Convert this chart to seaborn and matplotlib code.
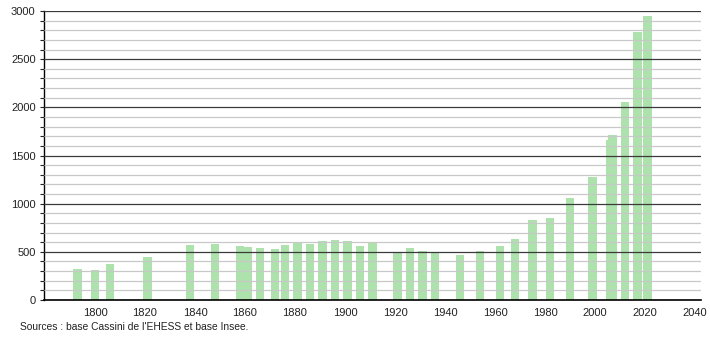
import matplotlib
matplotlib.use("Agg")
import matplotlib.pyplot as plt
from matplotlib.ticker import MultipleLocator
import seaborn as sns
import pandas as pd

years = [1793, 1800, 1806, 1821, 1838, 1848, 1858, 1861, 1866, 1872, 1876, 1881,
         1886, 1891, 1896, 1901, 1906, 1911, 1921, 1926, 1931, 1936, 1946, 1954,
         1962, 1968, 1975, 1982, 1990, 1999, 2006, 2007, 2012, 2017, 2021]
population = [321, 311, 376, 446, 570, 581, 563, 550, 539, 529, 567, 594,
              581, 612, 622, 609, 563, 598, 498, 539, 508, 501, 467, 508,
              560, 632, 829, 850, 1058, 1276, 1659, 1711, 2053, 2779, 2945]
x_ticks = [1800, 1820, 1840, 1860, 1880, 1900, 1920, 1940, 1960, 1980, 2000, 2020, 2040]
source = "Sources : base Cassini de l'EHESS et base Insee."

df = pd.DataFrame({"year": years, "population": population})

sns.set_style("white")
plt.rcParams["font.family"] = ["Liberation Sans", "DejaVu Sans"]

fig = plt.figure(figsize=(7.1, 3.4), dpi=100)
ax = fig.add_axes([0.062, 0.1176, 0.925, 0.85])

sns.barplot(data=df, x="year", y="population", native_scale=True, orient="x",
            width=3.3, color="#ade2ad", saturation=1, errorbar=None,
            linewidth=0, ax=ax, zorder=1)

ax.set_xlim(1779.6, 2042.3)
ax.set_ylim(0, 3000)
ax.set_xticks(x_ticks)
ax.set_xticklabels([str(t) for t in x_ticks])
ax.yaxis.set_major_locator(MultipleLocator(500))
ax.yaxis.set_minor_locator(MultipleLocator(100))

ax.grid(False)
ax.set_axisbelow(False)
ax.yaxis.grid(True, which="minor", color="#c8c8c8", linewidth=0.9, zorder=2)
ax.yaxis.grid(True, which="major", color="#3a3a3a", linewidth=0.9, zorder=3)

for s in ["top", "right"]:
    ax.spines[s].set_visible(False)
ax.spines["left"].set_color("black")
ax.spines["bottom"].set_color("black")
ax.spines["left"].set_linewidth(1.0)
ax.spines["bottom"].set_linewidth(1.2)
ax.spines["bottom"].set_zorder(5)

ax.tick_params(axis="x", length=0, pad=6, labelsize=8, colors="#222222")
ax.tick_params(axis="y", which="major", length=3, width=0.8, pad=3, labelsize=8,
               left=True, colors="#222222")
ax.tick_params(axis="y", which="minor", length=3, width=0.8, left=True, color="#222222")

ax.set_xlabel("")
ax.set_ylabel("")

fig.text(20 / 710, 1 - 327 / 340, source, fontsize=7.4, color="#222222",
         ha="left", va="center")

fig.savefig("out.png", dpi=100)
